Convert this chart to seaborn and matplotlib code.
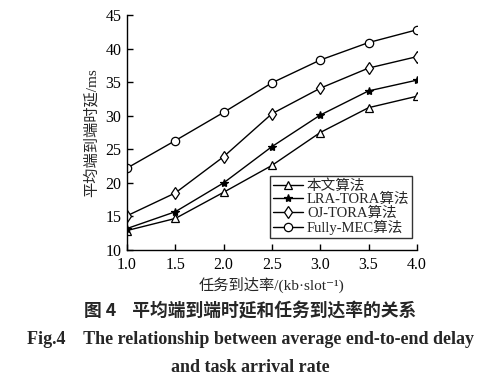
import matplotlib
matplotlib.use("Agg")
import matplotlib.pyplot as plt
import seaborn as sns
import pandas as pd

x_vals = [1.0, 1.5, 2.0, 2.5, 3.0, 3.5, 4.0]
ours = [12.9, 14.7, 18.6, 22.6, 27.5, 31.2, 32.9]
lra_tora = [13.2, 15.7, 20.0, 25.4, 30.1, 33.7, 35.3]
oj_tora = [15.1, 18.5, 23.9, 30.3, 34.1, 37.1, 38.8]
fully_mec = [22.2, 26.3, 30.5, 34.9, 38.3, 40.9, 42.8]
series_names = ["本文算法", "LRA-TORA算法", "OJ-TORA算法", "Fully-MEC算法"]
x_ticks = [1.0, 1.5, 2.0, 2.5, 3.0, 3.5, 4.0]
y_ticks = [10, 15, 20, 25, 30, 35, 40, 45]

sns.set_theme(style="ticks")
fam = ["Liberation Serif", "Noto Sans CJK SC", "DejaVu Sans"]
plt.rcParams["font.family"] = fam
plt.rcParams["axes.unicode_minus"] = False

fig = plt.figure(figsize=(5.01, 3.86), dpi=100)
ax = fig.add_axes([0.2535, 0.3523, 0.832 - 0.2535, 0.961 - 0.3523])

styles = [
    dict(marker="^", mfc="white", ms=6),
    dict(marker="*", mfc="black", ms=6),
    dict(marker="d", mfc="white", ms=6),
    dict(marker="o", mfc="white", ms=6),
]
for name, vals, st in zip(series_names, [ours, lra_tora, oj_tora, fully_mec], styles):
    df = pd.DataFrame({"x": x_vals, "y": vals})
    sns.lineplot(data=df, x="x", y="y", ax=ax, color="black", linewidth=1.0,
                 marker=st["marker"], markersize=st["ms"], markerfacecolor=st["mfc"],
                 markeredgecolor="black", markeredgewidth=0.9, label=name)

ax.set_xlim(1.0, 4.0)
ax.set_ylim(10, 45)
ax.set_xticks(x_ticks)
ax.set_xticklabels([f"{t:.1f}" for t in x_ticks])
ax.set_yticks(y_ticks)
ax.set_yticklabels([str(t) for t in y_ticks])
for s in ["top", "right"]:
    ax.spines[s].set_visible(False)
for s in ["left", "bottom"]:
    ax.spines[s].set_color("black")
    ax.spines[s].set_linewidth(1.0)
ax.tick_params(direction="in", length=4, width=1.0, colors="black", labelsize=11.5)
ax.tick_params(axis="x", pad=5)
ax.tick_params(axis="y", pad=4)
ax.set_xlabel("任务到达率/(kb·slot⁻¹)", fontsize=11, family=fam, labelpad=3)
ax.set_ylabel("平均端到端时延/ms", fontsize=11, family=fam, labelpad=5)

leg = ax.legend(loc="lower right", bbox_to_anchor=(0.995, 0.04), frameon=True, fancybox=False,
                edgecolor="black", handlelength=2.0, handletextpad=0.3,
                borderpad=0.2, labelspacing=0.0, borderaxespad=0.2,
                prop={"family": fam, "size": 10.5})
leg.get_frame().set_linewidth(1.0)

fig.text(0.5, 1 - 311 / 386, "图 4    平均端到端时延和任务到达率的关系", ha="center", va="center",
         fontsize=12.8, fontweight="bold", family=["Noto Sans CJK SC", "Liberation Serif"])
fig.text(0.5, 1 - 339 / 386, "Fig.4    The relationship between average end-to-end delay",
         ha="center", va="center", fontsize=13, fontweight="bold", family=fam)
fig.text(0.5, 1 - 367 / 386, "and task arrival rate", ha="center", va="center",
         fontsize=13, fontweight="bold", family=fam)

fig.savefig("out.png", dpi=100)
